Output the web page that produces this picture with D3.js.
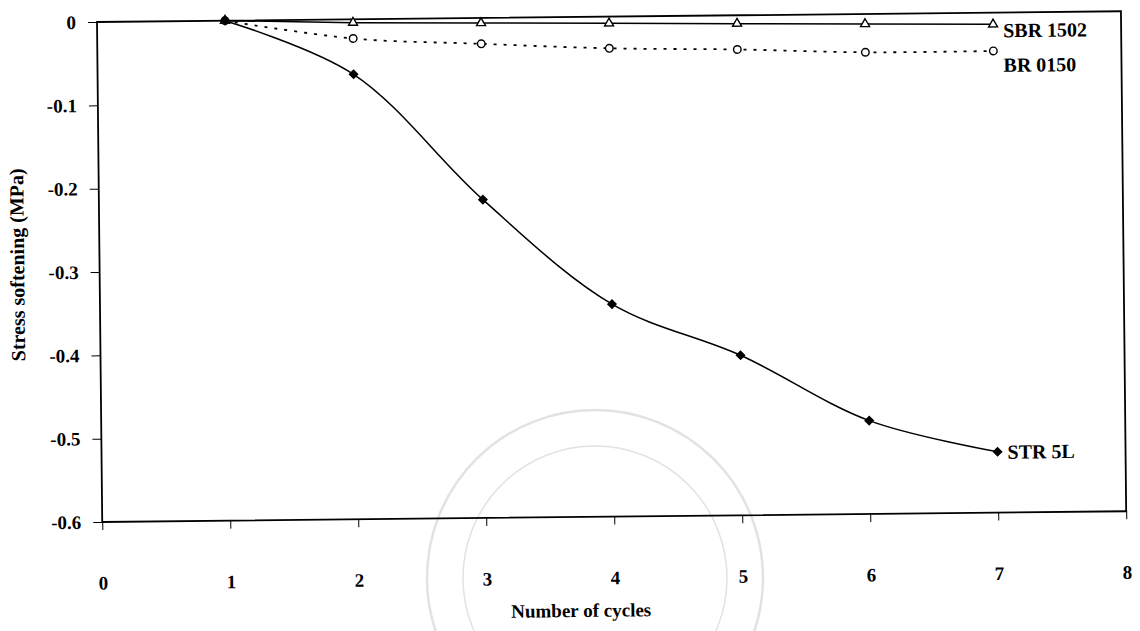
<!DOCTYPE html>
<html>
<head>
<meta charset="utf-8">
<script src="https://cdn.jsdelivr.net/npm/d3@7"></script>
<style>
  body { margin: 0; background: #fff; }
  text { font-family: "Liberation Serif", "Times New Roman", serif; font-weight: bold; fill: #000; }
</style>
</head>
<body>
<div id="chart"></div>
<script>
// Данные
const cycles = [1, 2, 3, 4, 5, 6, 7];
const sbr1502 = [0, -0.004, -0.006, -0.008, -0.010, -0.012, -0.014];
const br0150 = [0, -0.023, -0.031, -0.038, -0.041, -0.046, -0.046];
const str5l = [0, -0.066, -0.218, -0.345, -0.408, -0.488, -0.527];
const xTicks = [0, 1, 2, 3, 4, 5, 6, 7, 8];
const yTicks = [0, -0.1, -0.2, -0.3, -0.4, -0.5, -0.6];
const seriesNames = ["SBR 1502", "BR 0150", "STR 5L"];

const width = 1140;
const height = 631;
const plotLeft = 97, plotRight = 1121, plotTop = 22, plotBottom = 522;

const svg = d3.select("#chart").append("svg")
    .attr("width", width)
    .attr("height", height);

// Бледная печать (водяной знак скана)
const seal = svg.append("g").attr("fill", "none").attr("stroke", "#e2e2e2");
seal.append("circle").attr("cx", 595).attr("cy", 578).attr("r", 168).attr("stroke-width", 2.5);
seal.append("circle").attr("cx", 595).attr("cy", 578).attr("r", 132).attr("stroke-width", 1.5);

// Скан слегка повернут
const g = svg.append("g").attr("transform", `rotate(-0.6, ${plotLeft}, ${plotTop})`);

const x = d3.scaleLinear().domain([0, 8]).range([plotLeft, plotRight]);
const y = d3.scaleLinear().domain([-0.6, 0]).range([plotBottom, plotTop]);

// Рамка области построения
g.append("rect")
    .attr("x", plotLeft).attr("y", plotTop)
    .attr("width", plotRight - plotLeft).attr("height", plotBottom - plotTop)
    .attr("fill", "none").attr("stroke", "#000").attr("stroke-width", 1.8);

// Ось Y
const yAxis = g.append("g")
    .attr("transform", `translate(${plotLeft},0)`)
    .call(d3.axisLeft(y).tickValues(yTicks).tickSize(9).tickPadding(12)
        .tickFormat(d => d === 0 ? "0" : d.toFixed(1)));
yAxis.select(".domain").remove();
yAxis.selectAll("text").style("font-size", "19px");

// Ось X
const xAxis = g.append("g")
    .attr("transform", `translate(0,${plotBottom})`)
    .call(d3.axisBottom(x).tickValues(xTicks).tickSize(8).tickPadding(46));
xAxis.select(".domain").remove();
xAxis.selectAll("text").style("font-size", "19px");

// Подписи осей
g.append("text")
    .attr("transform", `translate(17,${(plotTop + plotBottom) / 2 - 8}) rotate(-90)`)
    .attr("text-anchor", "middle")
    .attr("dominant-baseline", "middle")
    .style("font-size", "20px")
    .text("Stress softening (MPa)");

g.append("text")
    .attr("x", 575).attr("y", 622)
    .attr("text-anchor", "middle")
    .style("font-size", "19px")
    .text("Number of cycles");

// Линии
const series = [
    { name: seriesNames[0], values: sbr1502, dash: null, marker: "triangle", curve: d3.curveLinear, dy: 13 },
    { name: seriesNames[1], values: br0150, dash: "3,7", marker: "circle", curve: d3.curveCatmullRom, dy: 21 },
    { name: seriesNames[2], values: str5l, dash: null, marker: "diamond", curve: d3.curveCatmullRom, dy: 7 }
];

series.forEach(s => {
    const pts = cycles.map((c, i) => [c, s.values[i]]);
    const line = d3.line().x(d => x(d[0])).y(d => y(d[1])).curve(s.curve);
    g.append("path")
        .attr("d", line(pts))
        .attr("fill", "none")
        .attr("stroke", "#000")
        .attr("stroke-width", s.dash ? 1.8 : 1.5)
        .attr("stroke-dasharray", s.dash);

    const sym = s.marker === "triangle" ? d3.symbolTriangle
        : s.marker === "circle" ? d3.symbolCircle : d3.symbolDiamond2;
    const size = s.marker === "triangle" ? 35 : s.marker === "circle" ? 45 : 42;
    g.selectAll(null)
        .data(pts)
        .enter()
        .append("path")
        .attr("transform", d => `translate(${x(d[0])},${y(d[1])})`)
        .attr("d", d3.symbol().type(sym).size(size))
        .attr("fill", s.marker === "diamond" ? "#000" : "#fff")
        .attr("stroke", "#000")
        .attr("stroke-width", 1.4);

    const last = pts[pts.length - 1];
    g.append("text")
        .attr("x", x(last[0]) + 10)
        .attr("y", y(last[1]) + s.dy)
        .style("font-size", "20px")
        .text(s.name);
});
</script>
</body>
</html>
